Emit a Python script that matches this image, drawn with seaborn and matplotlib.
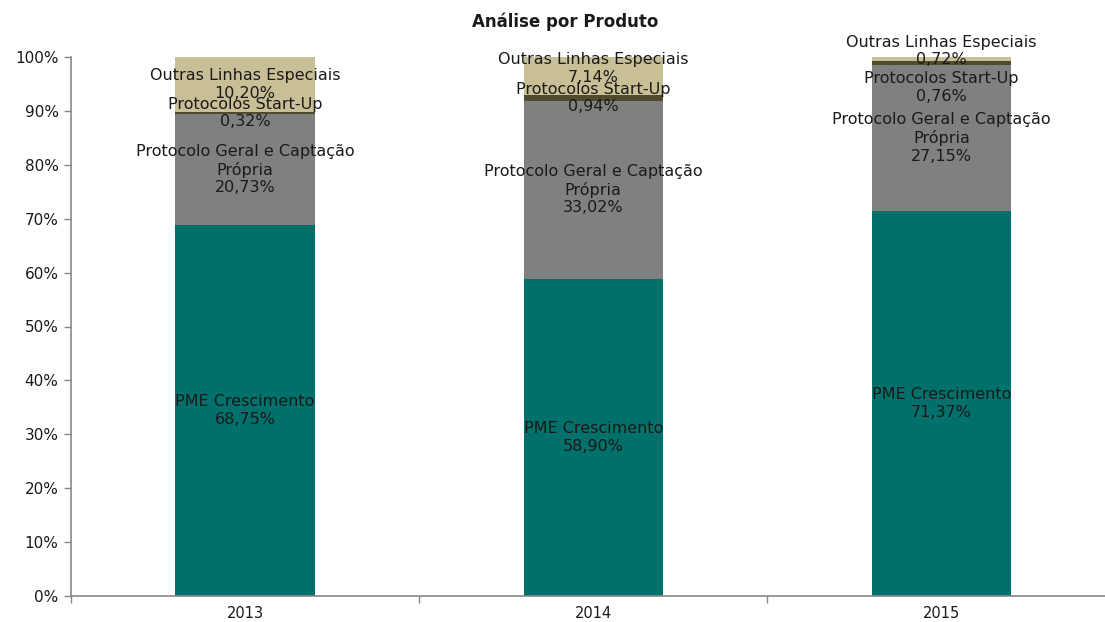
import numpy as np
import pandas as pd
import matplotlib
matplotlib.use("Agg")
import matplotlib.pyplot as plt
import seaborn as sns

# Product mix per year (percent of total)
years = ["2013", "2014", "2015"]
products = ["PME Crescimento", "Protocolo Geral e Captação\nPrópria",
            "Protocolos Start-Up", "Outras Linhas Especiais"]
pme = [68.75, 58.90, 71.37]
geral = [20.73, 33.02, 27.15]
startup = [0.32, 0.94, 0.76]
outras = [10.20, 7.14, 0.72]
colors = ["#00706A", "#808080", "#4E4A2C", "#C9BF97"]
y_ticks = [0, 10, 20, 30, 40, 50, 60, 70, 80, 90, 100]

series = [pme, geral, startup, outras]
df = pd.DataFrame({p: s for p, s in zip(products, series)}, index=years)
cum = df.cumsum(axis=1)

sns.set_theme(style="white")
plt.rcParams["font.family"] = ["DejaVu Sans"]

fig = plt.figure(figsize=(11.05, 6.22), dpi=100)
ax = fig.add_axes([71 / 1105, 26 / 622, 1 - 71 / 1105, (596 - 57) / 622])

# stacked bars: draw cumulative totals from the top layer down
for i in range(len(products) - 1, -1, -1):
    d = pd.DataFrame({"ano": years, "valor": cum.iloc[:, i].values})
    sns.barplot(data=d, x="ano", y="valor", color=colors[i], width=0.40,
                saturation=1, ax=ax, linewidth=0, errorbar=None)

# segment labels, centred in each segment unless nudged
nudge = {("2014", 3): 1.4, ("2015", 3): 1.5, ("2015", 2): -4.5}
for xi, yr in enumerate(years):
    base = 0.0
    for i, p in enumerate(products):
        v = df.loc[yr, p]
        yc = base + v / 2 + nudge.get((yr, i), 0)
        txt = f"{p}\n{v:.2f}%".replace(".", ",")
        ax.text(xi, yc, txt, ha="center", va="center", fontsize=11.5,
                color="#1a1a1a", linespacing=1.22)
        base += v

ax.set_xlim(-0.5, 2.47)
ax.set_ylim(0, 100)
ax.set_yticks(y_ticks)
ax.set_yticklabels([f"{t}%" for t in y_ticks], fontsize=11, color="#1a1a1a")
ax.set_xticks(range(len(years)))
ax.set_xticklabels(years, fontsize=10.5, color="#1a1a1a")
ax.set_xticks([-0.5, 0.5, 1.5], minor=True)
ax.tick_params(axis="x", which="major", length=0, pad=7)
ax.tick_params(axis="x", which="minor", length=5, color="#888888", width=1,
               direction="out", bottom=True)
ax.tick_params(axis="y", length=5, color="#888888", width=1,
               direction="out", left=True, pad=4)
ax.set_xlabel("")
ax.set_ylabel("")
for s in ["top", "right"]:
    ax.spines[s].set_visible(False)
for s in ["left", "bottom"]:
    ax.spines[s].set_color("#888888")
    ax.spines[s].set_linewidth(1.2)

fig.text(565 / 1105, 1 - 22 / 622, "Análise por Produto", ha="center",
         va="center", fontsize=12, fontweight="bold", color="#1a1a1a")

fig.savefig("out.png", dpi=100)
